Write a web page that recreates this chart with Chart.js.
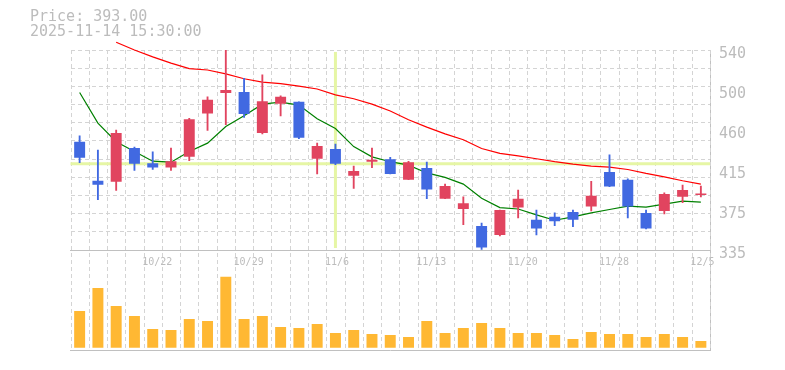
<!DOCTYPE html>
<html>
<head>
<meta charset="utf-8">
<script src="https://cdn.jsdelivr.net/npm/chart.js@4.4.1/dist/chart.umd.min.js"></script>
<style>
  html, body { margin: 0; padding: 0; background: #fff; }
</style>
</head>
<body>
<canvas id="stockChart" width="785" height="370"></canvas>
<script>
// 営業日
const dates = [
  "10/16", "10/17", "10/20", "10/21", "10/22", "10/23", "10/24", "10/27", "10/28", "10/29",
  "10/30", "10/31", "11/4", "11/5", "11/6", "11/7", "11/10", "11/11", "11/12", "11/13",
  "11/14", "11/17", "11/18", "11/19", "11/20", "11/21", "11/25", "11/26", "11/27", "11/28",
  "12/1", "12/2", "12/3", "12/4", "12/5",
];
const xTickLabels = ["10/22", "10/29", "11/6", "11/13", "11/20", "11/28", "12/5"];

// 四本値
const opens = [
  446, 406, 405, 439.5, 424, 419.5, 430.5, 475, 496, 497,
  455, 485, 487, 428.5, 438.5, 411, 425.5, 428, 407, 419,
  387.5, 377, 359.5, 350.5, 378.5, 366, 369, 374, 379.5, 415,
  407, 373, 375, 389.5, 391.5,
];
const closes = [
  429.5, 402, 455, 423.5, 419.5, 426, 469, 489, 499, 474.5,
  487.5, 492, 450, 441.5, 423.5, 416, 427.5, 413, 425, 397,
  400.5, 383, 337.5, 376, 387.5, 357, 364.5, 366, 390.5, 400,
  379.5, 357, 392.5, 396.5, 393,
];
const highs = [
  452, 437.5, 458, 440.5, 435.5, 439.5, 470, 492, 541, 511,
  514.5, 493, 487, 444.5, 443.5, 421, 439.5, 430, 426, 425,
  402.5, 389.5, 362.5, 376, 396.5, 376, 373, 376, 405.5, 432.5,
  408, 376, 393.5, 401.5, 400.5,
];
const lows = [
  424.5, 386.5, 396, 416.5, 417.5, 416.5, 426.5, 457.5, 463.5, 471,
  454, 472.5, 449, 413, 422.5, 398, 419.5, 413, 407, 387.5,
  387.5, 361, 335.5, 349.5, 368, 350.5, 360, 359, 375, 400,
  368, 356.5, 372, 383.5, 389.5,
];

// 出来高
const volumes = [
  36700, 59700, 41700, 31700, 18700, 17700, 28700, 26700, 71000, 28700,
  31700, 20700, 19700, 23700, 14700, 17700, 13700, 12700, 10700, 26700,
  14700, 19700, 24700, 19700, 14700, 14700, 12700, 8700, 15700, 13700,
  13700, 10700, 13700, 10700, 6700,
];

// 移動平均
const maShort = [
  496.5, 465, 446, 436, 426, 425, 436, 444.5, 461.5, 472.5,
  484.5, 486.5, 483.5, 469.5, 459.5, 441, 430.5, 425.5, 422, 414,
  409.5, 402.5, 388, 378.5, 377, 371, 365.5, 369, 373, 376.5,
  380, 379, 382, 385, 384,
];
const maLong = [
  null, null, 548, 540, 533, 526.5, 521, 519.5, 515.5, 510.5,
  507, 505.5, 503, 500, 494, 490, 484.5, 477.5, 468.5, 461,
  454, 448, 439, 434, 431.5, 428.5, 425.5, 423, 421, 420,
  417.5, 413.5, 410, 406, 402.5,
];

// 価格軸
const priceMin = 335;
const priceMax = 540;
const yTickValues = [335, 376, 417, 458, 499, 540];
const yTickLabels = ["335", "375", "415", "460", "500", "540"];

// カーソル位置
const crossIndex = 14;
const crossValue = 423.5;
const priceLabel = "Price: 393.00";
const timeLabel = "2025-11-14 15:30:00";

const UP = "#e1445f";
const DOWN = "#4169e1";
const GRID = "#d4d4d4";
const AXIS = "#c0c0c0";
const TEXT = "#bcbcbc";
const MONO = "'DejaVu Sans Mono', monospace";

const candleColor = (ctx) =>
  closes[ctx.dataIndex] >= opens[ctx.dataIndex] ? UP : DOWN;

// 縦グリッド (価格と出来高の両方に通す) と十字カーソル
const overlay = {
  id: "overlay",
  beforeDatasetsDraw(chart) {
    const { ctx, chartArea, scales } = chart;
    const xs = scales.x;

    ctx.save();
    ctx.strokeStyle = GRID;
    ctx.lineWidth = 1;
    ctx.setLineDash([4, 3]);
    ctx.beginPath();
    for (let i = 0; i <= dates.length; i++) {
      const px = Math.round(xs.getPixelForValue(i - 0.5)) + 0.5;
      ctx.moveTo(px, chartArea.top);
      ctx.lineTo(px, chartArea.bottom);
    }
    ctx.stroke();
    ctx.restore();

    const x = xs.getPixelForValue(crossIndex);
    const y = scales.y.getPixelForValue(crossValue);
    ctx.save();
    ctx.strokeStyle = "rgb(230, 246, 165)";
    ctx.lineWidth = 3;
    ctx.beginPath();
    ctx.moveTo(chartArea.left, y);
    ctx.lineTo(chartArea.right, y);
    ctx.moveTo(x, scales.y.top + 2);
    ctx.lineTo(x, scales.y.bottom - 2);
    ctx.stroke();
    ctx.restore();
  },
};

const ctx = document.getElementById("stockChart").getContext("2d");
new Chart(ctx, {
  type: "bar",
  data: {
    labels: dates,
    datasets: [
      {
        label: "body",
        data: dates.map((d, i) => [opens[i], closes[i]]),
        backgroundColor: candleColor,
        barPercentage: 0.6,
        categoryPercentage: 1,
        grouped: false,
        minBarLength: 1,
        yAxisID: "y",
        order: 0,
      },
      {
        label: "wick",
        data: dates.map((d, i) => [lows[i], highs[i]]),
        backgroundColor: candleColor,
        barThickness: 1.2,
        grouped: false,
        yAxisID: "y",
        order: 1,
      },
      {
        type: "line",
        label: "MA short",
        data: maShort,
        borderColor: "#008000",
        borderWidth: 1.2,
        pointRadius: 0,
        tension: 0,
        yAxisID: "y",
        order: 2,
      },
      {
        type: "line",
        label: "MA long",
        data: maLong,
        borderColor: "#ff0000",
        borderWidth: 1.2,
        pointRadius: 0,
        tension: 0,
        clip: false,
        yAxisID: "y",
        order: 2,
      },
      {
        label: "volume",
        data: volumes,
        backgroundColor: "#ffb833",
        barPercentage: 0.6,
        categoryPercentage: 1,
        grouped: false,
        yAxisID: "yv",
        order: 3,
      },
    ],
  },
  options: {
    responsive: false,
    animation: false,
    devicePixelRatio: 1,
    layout: { padding: { left: 30, right: 0, top: 0, bottom: 20 } },
    plugins: {
      legend: { display: false },
      tooltip: { enabled: false },
      title: {
        display: true,
        text: [priceLabel, timeLabel],
        align: "start",
        color: TEXT,
        font: { family: MONO, size: 15, weight: "normal", lineHeight: 1 },
        padding: { top: 10, bottom: 10 },
      },
    },
    scales: {
      // 日付ラベル (価格エリアの下端)
      x: {
        type: "category",
        position: { y: priceMin },
        offset: true,
        grid: { display: false, drawTicks: false },
        border: { display: true, color: AXIS },
        ticks: {
          autoSkip: false,
          maxRotation: 0,
          align: "start",
          labelOffset: -10.5,
          padding: 6,
          color: TEXT,
          font: { family: MONO, size: 10 },
          callback: (v, i) => (xTickLabels.includes(dates[i]) ? dates[i] : ""),
        },
      },
      // 下枠
      xv: {
        type: "category",
        position: "bottom",
        offset: true,
        grid: { display: false, drawTicks: false },
        ticks: { display: false },
        border: { display: true, color: AXIS },
      },
      y: {
        type: "linear",
        position: "right",
        stack: "price",
        stackWeight: 2,
        min: priceMin,
        max: priceMax,
        afterBuildTicks: (scale) => {
          scale.ticks = yTickValues.map((v) => ({ value: v }));
        },
        afterFit: (scale) => {
          scale.width = 75;
        },
        grid: { display: false, drawTicks: false },
        border: { display: true, color: AXIS },
        ticks: {
          padding: 9,
          labelOffset: 4,
          color: TEXT,
          font: { family: MONO, size: 15 },
          callback: (v, i) => yTickLabels[i],
        },
      },
      yv: {
        type: "linear",
        position: "right",
        stack: "price",
        stackWeight: 1,
        min: -2300,
        max: 97700,
        afterFit: (scale) => {
          scale.width = 75;
        },
        grid: { display: false, drawTicks: false },
        border: { display: true, color: AXIS },
        ticks: { display: false },
      },
      // 価格エリアの横グリッド
      yg: {
        type: "linear",
        position: "left",
        min: priceMin - (priceMax - priceMin) / 2,
        max: priceMax,
        afterBuildTicks: (scale) => {
          const step = (priceMax - priceMin) / 11;
          scale.ticks = [];
          for (let k = 0; k <= 11; k++) scale.ticks.push({ value: priceMin + k * step });
        },
        afterFit: (scale) => {
          scale.width = 40.5;
        },
        grid: { color: GRID, drawTicks: false },
        border: { display: false, dash: [4, 3] },
        ticks: { display: false },
      },
    },
  },
  plugins: [overlay],
});
</script>
</body>
</html>
